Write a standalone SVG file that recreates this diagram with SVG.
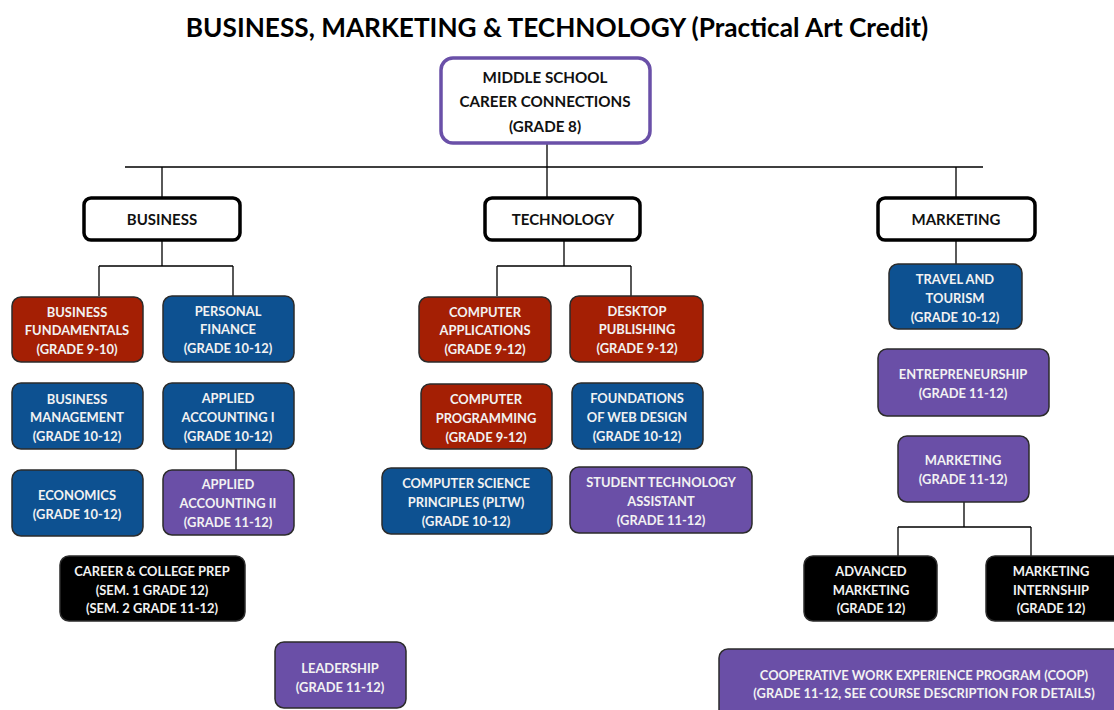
<svg xmlns="http://www.w3.org/2000/svg" width="1114" height="710" viewBox="0 0 1114 710">
<style>
text{font-family:Lato,"Open Sans","Liberation Sans",sans-serif;font-weight:bold;text-anchor:middle;dominant-baseline:central}
.t{font-size:26.2px;fill:#000}
.h{font-size:15px;fill:#111}
.c{font-size:12.9px;fill:#f2f2f2}
.m{font-size:15.2px;fill:#111}
.hd{fill:#fff;stroke:#000;stroke-width:3.5}
.red{fill:#a41f04;stroke:#2b2b2b;stroke-width:1.5}
.blue{fill:#0d5191;stroke:#2b2b2b;stroke-width:1.5}
.pur{fill:#6a4fa7;stroke:#2b2b2b;stroke-width:1.5}
.blk{fill:#000;stroke:#2b2b2b;stroke-width:1.5}
.ln{fill:none;stroke:#000;stroke-width:1.3}
</style>
<rect width="1114" height="710" fill="#fff"/>
<text class="t" x="557" y="27">BUSINESS, MARKETING &amp; TECHNOLOGY (Practical Art Credit)</text>

<g id="connectors">
<path class="ln" d="M547 143V167M125 167H983M162 167V198M547 167V198M956 167V198"/>
<path class="ln" d="M162 240V266M99 266H233M99 266V296M233 266V296"/>
<path class="ln" d="M236 449V470"/>
<path class="ln" d="M564 240V266M497 266H631M497 266V296M631 266V296"/>
<path class="ln" d="M956 240V265"/>
<path class="ln" d="M964 502V527M898 527H1031M898 527V556M1031 527V556"/>
</g>

<g id="ms">
<rect x="441" y="58" width="209" height="85" rx="12" fill="#fff" stroke="#6a50a8" stroke-width="3.5"/>
<text class="m" x="545" y="77">MIDDLE SCHOOL</text>
<text class="m" x="545" y="101">CAREER CONNECTIONS</text>
<text class="m" x="545" y="126">(GRADE 8)</text>
</g>

<g id="business"><rect class="hd" x="84" y="198" width="156" height="42" rx="7"/><text class="h" x="162" y="219">BUSINESS</text></g>
<g id="technology"><rect class="hd" x="485" y="198" width="155" height="42" rx="7"/><text class="h" x="563" y="219">TECHNOLOGY</text></g>
<g id="marketing"><rect class="hd" x="878" y="198" width="157" height="42" rx="7"/><text class="h" x="956" y="219">MARKETING</text></g>

<g id="bus-fund"><rect class="red" x="12" y="297" width="131" height="65" rx="9"/>
<text class="c" x="77" y="312">BUSINESS</text><text class="c" x="77" y="330">FUNDAMENTALS</text><text class="c" x="77" y="349">(GRADE 9-10)</text></g>
<g id="pers-fin"><rect class="blue" x="163" y="296" width="131" height="66" rx="9"/>
<text class="c" x="228" y="311">PERSONAL</text><text class="c" x="228" y="329">FINANCE</text><text class="c" x="228" y="348">(GRADE 10-12)</text></g>
<g id="bus-man"><rect class="blue" x="12" y="383" width="131" height="66" rx="9"/>
<text class="c" x="77" y="399">BUSINESS</text><text class="c" x="77" y="417">MANAGEMENT</text><text class="c" x="77" y="436">(GRADE 10-12)</text></g>
<g id="acc1"><rect class="blue" x="163" y="383" width="131" height="66" rx="9"/>
<text class="c" x="228" y="398">APPLIED</text><text class="c" x="228" y="417">ACCOUNTING I</text><text class="c" x="228" y="436">(GRADE 10-12)</text></g>
<g id="econ"><rect class="blue" x="12" y="470" width="131" height="66" rx="9"/>
<text class="c" x="77" y="495">ECONOMICS</text><text class="c" x="77" y="514">(GRADE 10-12)</text></g>
<g id="acc2"><rect class="pur" x="163" y="470" width="131" height="65" rx="9"/>
<text class="c" x="228" y="484">APPLIED</text><text class="c" x="228" y="503">ACCOUNTING II</text><text class="c" x="228" y="522">(GRADE 11-12)</text></g>
<g id="ccp"><rect class="blk" x="60" y="556" width="185" height="65" rx="9"/>
<text class="c" x="152" y="571">CAREER &amp; COLLEGE PREP</text><text class="c" x="152" y="590">(SEM. 1 GRADE 12)</text><text class="c" x="152" y="608">(SEM. 2 GRADE 11-12)</text></g>
<g id="lead"><rect class="pur" x="275" y="642" width="131" height="66" rx="9"/>
<text class="c" x="340" y="668">LEADERSHIP</text><text class="c" x="340" y="687">(GRADE 11-12)</text></g>

<g id="comp-app"><rect class="red" x="419" y="297" width="132" height="65" rx="9"/>
<text class="c" x="485" y="312">COMPUTER</text><text class="c" x="485" y="330">APPLICATIONS</text><text class="c" x="485" y="349">(GRADE 9-12)</text></g>
<g id="dtp"><rect class="red" x="570" y="296" width="133" height="66" rx="9"/>
<text class="c" x="637" y="311">DESKTOP</text><text class="c" x="637" y="329">PUBLISHING</text><text class="c" x="637" y="348">(GRADE 9-12)</text></g>
<g id="comp-prog"><rect class="red" x="421" y="384" width="131" height="65" rx="9"/>
<text class="c" x="486" y="399">COMPUTER</text><text class="c" x="486" y="418">PROGRAMMING</text><text class="c" x="486" y="437">(GRADE 9-12)</text></g>
<g id="web"><rect class="blue" x="572" y="383" width="131" height="66" rx="9"/>
<text class="c" x="637" y="398">FOUNDATIONS</text><text class="c" x="637" y="417">OF WEB DESIGN</text><text class="c" x="637" y="436">(GRADE 10-12)</text></g>
<g id="csp"><rect class="blue" x="382" y="468" width="170" height="66" rx="9"/>
<text class="c" x="466" y="483">COMPUTER SCIENCE</text><text class="c" x="466" y="502">PRINCIPLES (PLTW)</text><text class="c" x="466" y="521">(GRADE 10-12)</text></g>
<g id="sta"><rect class="pur" x="570" y="467" width="182" height="66" rx="9"/>
<text class="c" x="661" y="482">STUDENT TECHNOLOGY</text><text class="c" x="661" y="501">ASSISTANT</text><text class="c" x="661" y="520">(GRADE 11-12)</text></g>

<g id="travel"><rect class="blue" x="889" y="264" width="133" height="65" rx="9"/>
<text class="c" x="955" y="279">TRAVEL AND</text><text class="c" x="955" y="298">TOURISM</text><text class="c" x="955" y="317">(GRADE 10-12)</text></g>
<g id="entre"><rect class="pur" x="878" y="349" width="171" height="67" rx="9"/>
<text class="c" x="963" y="374">ENTREPRENEURSHIP</text><text class="c" x="963" y="393">(GRADE 11-12)</text></g>
<g id="mkt"><rect class="pur" x="898" y="436" width="131" height="66" rx="9"/>
<text class="c" x="963" y="460">MARKETING</text><text class="c" x="963" y="479">(GRADE 11-12)</text></g>
<g id="adv-mkt"><rect class="blk" x="804" y="556" width="133" height="65" rx="9"/>
<text class="c" x="871" y="571">ADVANCED</text><text class="c" x="871" y="590">MARKETING</text><text class="c" x="871" y="608">(GRADE 12)</text></g>
<g id="mkt-int"><rect class="blk" x="986" y="556" width="140" height="65" rx="9"/>
<text class="c" x="1051" y="571">MARKETING</text><text class="c" x="1051" y="590">INTERNSHIP</text><text class="c" x="1051" y="608">(GRADE 12)</text></g>
<g id="coop"><rect class="pur" x="719" y="649" width="410" height="75" rx="9"/>
<text class="c" x="924" y="675">COOPERATIVE WORK EXPERIENCE PROGRAM (COOP)</text><text class="c" x="924" y="693">(GRADE 11-12, SEE COURSE DESCRIPTION FOR DETAILS)</text></g>
</svg>
